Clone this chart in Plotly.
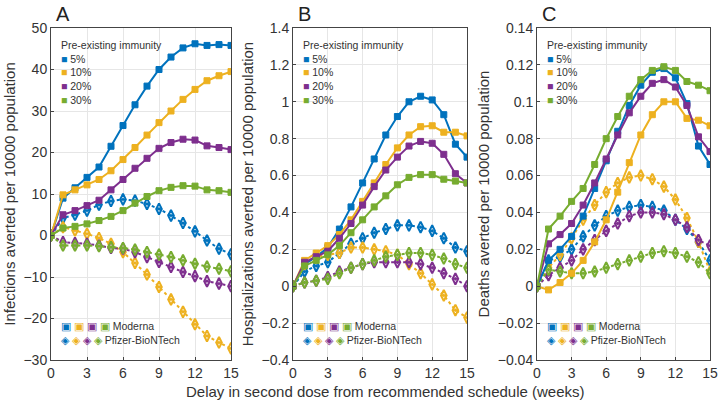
import plotly.graph_objects as go

W, H = 720, 405

weeks = list(range(16))
levels = ["5%", "10%", "20%", "30%"]
colors = ["#0072BD", "#EDB120", "#7E2F8E", "#77AC30"]

# Panel A - infections averted per 10000
inf_moderna = [
    [0, 9, 11.5, 14, 16.5, 21.5, 26.5, 31.5, 36, 40, 43, 45.2, 46.2, 45.8, 46, 45.8],
    [0, 9.8, 11, 12.2, 13.5, 15.6, 18.3, 21.2, 24.2, 27.2, 30, 32.8, 35.2, 37.3, 38.5, 39.5],
    [0, 5, 6, 7.2, 8.5, 11, 13.5, 16.2, 18.6, 21, 22.4, 23.2, 23, 21.6, 21.2, 20.7],
    [0, 1.8, 2.2, 2.8, 3.6, 4.6, 6, 7.8, 9.4, 10.8, 11.6, 12, 11.9, 11, 10.8, 10.4],
]
inf_pfizer = [
    [0, 4.2, 5, 6, 7.4, 8.3, 8.7, 8.4, 7.6, 6.4, 4.8, 3, 1, -1.2, -3.2, -4.5],
    [0, 2, 1.2, 0.4, -0.6, -2, -4, -6.6, -9.4, -12.4, -15.4, -18.4, -21.4, -24.2, -25.8, -27.2],
    [0, -1.6, -1.8, -2, -2.4, -3, -3.2, -4, -5.2, -6.4, -7.6, -8.8, -9.8, -11, -11.6, -12.2],
    [0, -2.4, -2.4, -2.4, -2.6, -2.8, -3, -3.4, -4, -4.6, -5.2, -6, -6.8, -7.5, -8, -8.6],
]

# Panel B - hospitalizations averted per 10000
hosp_moderna = [
    [0, 0.12, 0.16, 0.21, 0.31, 0.43, 0.56, 0.69, 0.82, 0.92, 1.0, 1.03, 1.01, 0.93, 0.77, 0.70],
    [0, 0.14, 0.18, 0.22, 0.28, 0.36, 0.46, 0.56, 0.66, 0.75, 0.82, 0.865, 0.87, 0.835, 0.835, 0.815],
    [0, 0.13, 0.16, 0.19, 0.26, 0.34, 0.44, 0.54, 0.63, 0.70, 0.76, 0.785, 0.775, 0.715, 0.61, 0.56],
    [0, 0.11, 0.14, 0.17, 0.22, 0.29, 0.36, 0.43, 0.49, 0.55, 0.59, 0.605, 0.605, 0.58, 0.57, 0.56],
]
hosp_pfizer = [
    [0, 0.08, 0.11, 0.13, 0.18, 0.23, 0.26, 0.29, 0.31, 0.33, 0.33, 0.32, 0.30, 0.26, 0.21, 0.19],
    [0, 0.12, 0.16, 0.17, 0.18, 0.21, 0.21, 0.20, 0.19, 0.17, 0.12, 0.07, 0.01, -0.05, -0.13, -0.17],
    [0, 0.02, 0.03, 0.05, 0.08, 0.10, 0.12, 0.13, 0.13, 0.13, 0.13, 0.12, 0.10, 0.07, 0.04, 0.0],
    [0, 0.02, 0.03, 0.04, 0.07, 0.10, 0.12, 0.14, 0.16, 0.17, 0.18, 0.18, 0.17, 0.15, 0.12, 0.10],
]

# Panel C - deaths averted per 10000
death_moderna = [
    [0, 0.014, 0.020, 0.027, 0.038, 0.053, 0.068, 0.084, 0.098, 0.109, 0.116, 0.118, 0.113, 0.099, 0.076, 0.066],
    [0, -0.002, 0.002, 0.007, 0.014, 0.024, 0.036, 0.051, 0.067, 0.082, 0.093, 0.100, 0.100, 0.091, 0.090, 0.087],
    [0, 0.023, 0.028, 0.034, 0.044, 0.056, 0.069, 0.082, 0.094, 0.103, 0.110, 0.112, 0.108, 0.098, 0.081, 0.073],
    [0, 0.031, 0.038, 0.046, 0.053, 0.066, 0.080, 0.092, 0.103, 0.112, 0.117, 0.119, 0.117, 0.111, 0.109, 0.106],
]
death_pfizer = [
    [0, 0.014, 0.016, 0.020, 0.027, 0.033, 0.038, 0.041, 0.043, 0.044, 0.043, 0.041, 0.036, 0.031, 0.024, 0.014],
    [0, 0.010, 0.017, 0.026, 0.036, 0.044, 0.051, 0.056, 0.059, 0.060, 0.058, 0.054, 0.047, 0.037, 0.024, 0.008],
    [0, 0.006, 0.010, 0.014, 0.020, 0.025, 0.030, 0.034, 0.038, 0.040, 0.040, 0.039, 0.036, 0.032, 0.025, 0.022],
    [0, 0.009, 0.008, 0.007, 0.007, 0.008, 0.010, 0.012, 0.014, 0.016, 0.018, 0.019, 0.018, 0.016, 0.013, 0.007],
]

y_titles = [
    "Infections averted per 10000 population",
    "Hospitalizations averted per 10000 population",
    "Deaths averted per 10000 population",
]
panel_letters = ["A", "B", "C"]
y_ranges = [(-30, 50), (-0.4, 1.4), (-0.04, 0.14)]
y_dticks = [10, 0.2, 0.02]
x_ticks = [0, 3, 6, 9, 12, 15]
x_title = "Delay in second dose from recommended schedule (weeks)"

FONT = "Liberation Sans, Arial, sans-serif"

# pixel boxes of the three panels (left, right)
panel_px = [(51, 231), (293, 467), (537, 710)]
top_px, bot_px = 28, 360


def px_x(x):
    return x / W


def px_y(y):
    return 1 - y / H


fig = go.Figure()
panels = [(inf_moderna, inf_pfizer), (hosp_moderna, hosp_pfizer), (death_moderna, death_pfizer)]

for p, (mod, pfz) in enumerate(panels):
    xa = "x" if p == 0 else f"x{p + 1}"
    ya = "y" if p == 0 else f"y{p + 1}"
    for i in range(4):
        fig.add_trace(go.Scatter(
            x=weeks, y=pfz[i], xaxis=xa, yaxis=ya, mode="lines+markers",
            line=dict(color=colors[i], width=2, dash="dot"),
            marker=dict(symbol="diamond-tall-dot", size=8, color="rgba(255,255,255,0.5)",
                        line=dict(color=colors[i], width=2)),
            showlegend=False))
    for i in range(4):
        fig.add_trace(go.Scatter(
            x=weeks, y=mod[i], xaxis=xa, yaxis=ya, mode="lines+markers",
            line=dict(color=colors[i], width=2),
            marker=dict(symbol="square", size=6, color=colors[i],
                        line=dict(color=colors[i], width=1)),
            showlegend=False))

layout = dict(
    width=W, height=H, margin=dict(l=0, r=0, t=0, b=0, autoexpand=False),
    plot_bgcolor="white", paper_bgcolor="white",
    font=dict(family=FONT, size=14, color="#333"),
    showlegend=False,
)
annotations = []
for p in range(3):
    sfx = "" if p == 0 else str(p + 1)
    l, r = panel_px[p]
    lo, hi = y_ranges[p]
    layout[f"xaxis{sfx}"] = dict(
        domain=[px_x(l), px_x(r)], range=[0, 15], tickvals=x_ticks,
        showgrid=True, gridcolor="#e6e6e6", zeroline=False,
        showline=True, linecolor="#444", linewidth=1, mirror=True,
        ticks="inside", ticklen=3, tickcolor="#444", automargin=False,
        anchor="y" + sfx, tickfont=dict(size=14, color="#333"))
    layout[f"yaxis{sfx}"] = dict(
        domain=[px_y(bot_px), px_y(top_px)], range=[lo, hi], dtick=y_dticks[p],
        tick0=0, showgrid=True, gridcolor="#e6e6e6", zeroline=False,
        showline=True, linecolor="#444", linewidth=1, mirror=True,
        ticks="inside", ticklen=3, tickcolor="#444", automargin=False,
        anchor="x" + sfx, tickfont=dict(size=14, color="#333"),
        title=dict(text=y_titles[p], font=dict(size=15, color="#333"), standoff=4))

    # panel letter
    annotations.append(dict(
        x=px_x(l + 3), y=px_y(14), xref="paper", yref="paper", text=panel_letters[p],
        showarrow=False, xanchor="left", yanchor="middle",
        font=dict(size=20, color="#222")))
    # legend: pre-existing immunity (one block, one row per level)
    lx = l + 8
    rows = ["Pre-existing immunity"] + [
        f"<span style='color:{colors[i]}'>■</span> {lev}" for i, lev in enumerate(levels)
    ]
    annotations.append(dict(
        x=px_x(lx), y=px_y(37), xref="paper", yref="paper",
        text="<br>".join(rows), showarrow=False, xanchor="left", align="left",
        yanchor="top", font=dict(size=10.5, color="#333")))
    # legend: vaccine type
    sq = " ".join(f"<span style='color:{c}'>▣</span>" for c in colors)
    dm = " ".join(f"<span style='color:{c}'>◈</span>" for c in colors)
    annotations.append(dict(
        x=px_x(lx), y=px_y(318), xref="paper", yref="paper",
        text=sq + " Moderna<br>" + dm + " Pfizer-BioNTech", showarrow=False,
        xanchor="left", align="left", yanchor="top",
        font=dict(size=10.5, color="#333")))

annotations.append(dict(
    x=px_x(385), y=px_y(391), xref="paper", yref="paper", text=x_title,
    showarrow=False, xanchor="center", yanchor="middle",
    font=dict(size=15, color="#333")))

layout["annotations"] = annotations
fig.update_layout(**layout)

# drop the default page margin so the figure sits at the window origin
fig.write_html("out.html", config={"displayModeBar": False},
               post_script="document.body.style.margin='0';")
